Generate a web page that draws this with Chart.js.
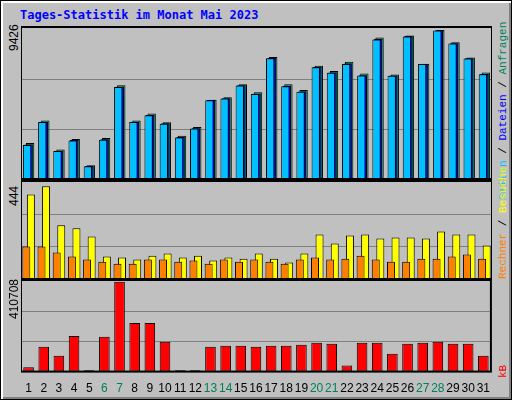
<!DOCTYPE html>
<html lang="de">
<head>
<meta charset="UTF-8">
<title>Tages-Statistik im Monat Mai 2023</title>
<script src="https://cdn.jsdelivr.net/npm/chart.js"></script>
<style>
    body { margin: 0; background: #fff; }
    #page {
        position: relative; width: 510px; height: 398px;
        background: #c0c0c0; border: 1px solid #000;
        box-shadow: inset 2px 2px 0 #fff, inset -2px -2px 0 #808080;
        font-family: "Liberation Sans", sans-serif; overflow: hidden;
    }
    #title {
        position: absolute; left: 19px; top: 7px; color: #0000ff;
        font: bold 12px "DejaVu Sans Mono", monospace;
    }
    .box { position: absolute; }
    .rot {
        position: absolute; white-space: nowrap; font-size: 12px;
        transform-origin: left top; transform: rotate(-90deg);
    }
    .leg { font: 11px "Liberation Mono", monospace; }
</style>
</head>
<body>
<div id="page">
    <div id="title">Tages-Statistik im Monat Mai 2023</div>
    <div class="box" style="left:20px;top:25px;width:471px;height:154px"><canvas id="top"></canvas></div>
    <div class="box" style="left:20px;top:179px;width:471px;height:100px"><canvas id="mid"></canvas></div>
    <div class="box" style="left:20px;top:278px;width:471px;height:120px"><canvas id="bot"></canvas></div>

    <div class="rot" style="left:6px;top:50px">9426</div>
    <div class="rot" style="left:6px;top:205px">444</div>
    <div class="rot" style="left:6px;top:318px">410708</div>

    <div class="rot leg" style="left:496px;top:199px"><span style="color:#00c0ff">Seiten</span> / <span style="color:#0000ff">Dateien</span> / <span style="color:#00805c">Anfragen</span></div>
    <div class="rot leg" style="left:496px;top:278px"><span style="color:#ff8000">Rechner</span> / <span style="color:#ffff00">Besuche</span></div>
    <div class="rot leg" style="left:496px;top:377px"><span style="color:#ff0000">kB</span></div>
</div>

<script>
    const days = Array.from({length: 31}, (_, i) => String(i + 1));
    const weekend = [6, 7, 13, 14, 20, 21, 27, 28];

    const hits  = [2280, 3696, 1869, 2526, 862, 2588, 5935, 3696, 4148, 3594, 2731, 3286, 5011, 5175, 5996, 5483,
                   7722, 5996, 5627, 7167, 6838, 7413, 6674, 8954, 6613, 9077, 7290, 9426, 8646, 7681, 6736];
    const files = [2180, 3620, 1790, 2460, 820, 2510, 5840, 3620, 4050, 3520, 2650, 3210, 4990, 5110, 5930, 5400,
                   7650, 5890, 5540, 7090, 6740, 7300, 6570, 8850, 6550, 9040, 7280, 9400, 8590, 7640, 6640];
    const pages = [2150, 3600, 1770, 2440, 810, 2490, 5820, 3600, 4030, 3500, 2630, 3190, 4980, 5090, 5910, 5380,
                   7630, 5870, 5520, 7070, 6720, 7280, 6550, 8830, 6530, 9020, 7270, 9390, 8570, 7620, 6620];
    const visits = [391, 429, 248, 234, 196, 104, 99, 90, 108, 118, 99, 108, 85, 99, 94, 118,
                    94, 76, 118, 206, 164, 201, 206, 187, 192, 192, 187, 220, 206, 206, 155];
    const sites  = [150, 150, 122, 104, 90, 80, 71, 71, 90, 90, 80, 85, 71, 90, 80, 90,
                    80, 71, 90, 99, 90, 94, 108, 90, 80, 80, 94, 94, 104, 113, 94];
    const kbytes = [19500, 114000, 73000, 163000, 6000, 159000, 410708, 222000, 222000, 136000, 6000, 6000,
                    114000, 118000, 118000, 114000, 118000, 118000, 123000, 132000, 127000, 28000, 132000, 132000,
                    82000, 127000, 132000, 136000, 127000, 127000, 73000];

    const frame = {
        id: 'frame',
        afterDraw(chart) {
            const a = chart.chartArea, c = chart.ctx;
            c.save();
            c.strokeStyle = '#000';
            c.lineWidth = 2;
            c.strokeRect(a.left, a.top, a.right - a.left, a.bottom - a.top);
            c.restore();
        }
    };

    // reversed charts: the front bar (order 1) sits to the right of the back bars
    const rev = a => a.slice().reverse();

    function bar(label, data, color, order, barPct, catPct) {
        return { label, data, backgroundColor: color, borderColor: '#000', borderWidth: 1,
                 borderSkipped: false, order, barPercentage: barPct, categoryPercentage: catPct };
    }

    function makeChart(id, labels, datasets, max, showX, reverse) {
        return new Chart(document.getElementById(id), {
            type: 'bar',
            data: { labels, datasets },
            options: {
                responsive: true, maintainAspectRatio: false, animation: false,
                layout: { padding: { top: 1, bottom: 1 } },
                plugins: { legend: { display: false }, tooltip: { enabled: false } },
                scales: {
                    x: {
                        display: showX, reverse,
                        grid: { display: false }, border: { display: false },
                        ticks: {
                            maxRotation: 0, autoSkip: false, padding: 2,
                            font: { family: 'Liberation Sans', size: 12 },
                            color: ctx => weekend.includes(ctx.index + 1) ? '#00805c' : '#000'
                        }
                    },
                    y: {
                        min: 0, max: max * 1.02,
                        afterBuildTicks: axis => { axis.ticks = [1, 2].map(i => ({ value: max * i / 3 })); },
                        ticks: { display: false },
                        grid: { color: '#808080', drawTicks: false },
                        border: { display: false }
                    }
                }
            },
            plugins: [frame]
        });
    }

    makeChart('top', rev(days), [
        bar('Anfragen', rev(hits), '#00805c', 3, 5.5, 0.3),
        bar('Dateien', rev(files), '#0000ff', 2, 5.5, 0.3),
        bar('Seiten', rev(pages), '#00c0ff', 1, 5.5, 0.3)
    ], 9426, false, true);

    makeChart('mid', rev(days), [
        bar('Besuche', rev(visits), '#ffff00', 2, 1.75, 0.6),
        bar('Rechner', rev(sites), '#ff8000', 1, 1.75, 0.6)
    ], 444, false, true);

    makeChart('bot', days, [
        bar('kB', kbytes, '#ff0000', 1, 0.7, 1)
    ], 410708, true, false);
</script>
</body>
</html>
